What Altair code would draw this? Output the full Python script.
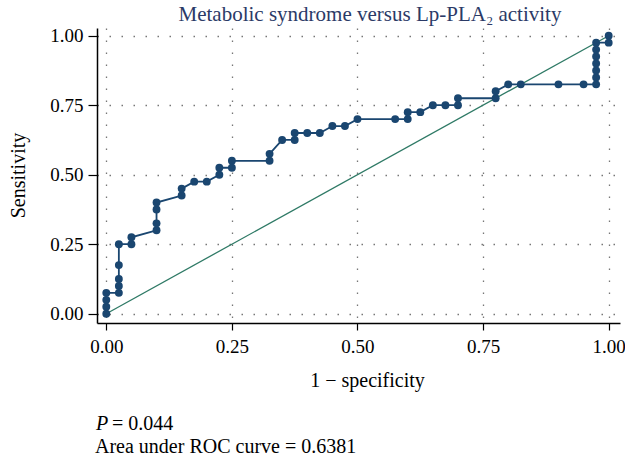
import altair as alt
import pandas as pd

# ROC curve points (1 - specificity, sensitivity)
fpr = [0, 0, 0, 0, 0.025, 0.025, 0.025, 0.025, 0.025, 0.05, 0.05, 0.1, 0.1, 0.1, 0.1,
       0.15, 0.15, 0.175, 0.2, 0.225, 0.225, 0.25, 0.25, 0.325, 0.325, 0.35, 0.375, 0.375,
       0.4, 0.425, 0.45, 0.475, 0.5, 0.575, 0.6, 0.6, 0.625, 0.65, 0.675, 0.7, 0.7, 0.775,
       0.775, 0.8, 0.825, 0.9, 0.95, 0.975, 0.975, 0.975, 0.975, 0.975, 0.975, 0.975, 1.0, 1.0]
tpr = [0, 0.025, 0.05, 0.075, 0.075, 0.1, 0.125, 0.175, 0.25, 0.25, 0.275, 0.3, 0.325, 0.375, 0.4,
       0.425, 0.45, 0.475, 0.475, 0.5, 0.525, 0.525, 0.55, 0.55, 0.575, 0.625, 0.625, 0.65,
       0.65, 0.65, 0.675, 0.675, 0.7, 0.7, 0.7, 0.725, 0.725, 0.75, 0.75, 0.75, 0.775, 0.775,
       0.8, 0.825, 0.825, 0.825, 0.825, 0.825, 0.85, 0.875, 0.9, 0.925, 0.95, 0.975, 0.975, 1.0]
ref_x = [0, 1]
ref_y = [0, 1]
ticks = [0, 0.25, 0.5, 0.75, 1.0]

title_text = "Metabolic syndrome versus Lp-PLA\u2082 activity"
p_label = "P"
p_value = "= 0.044"
auc_text = "Area under ROC curve = 0.6381"

FONT = "Liberation Serif"
FS = 20
LFS = 19
BLUE = "#1a4670"
GREEN = "#2f7a66"

roc = pd.DataFrame({"fpr": fpr, "tpr": tpr, "order": list(range(len(fpr)))})
diag = pd.DataFrame({"fpr": ref_x, "tpr": ref_y})

xscale = alt.Scale(domain=[-0.0185, 1.0225], nice=False, zero=False)
yscale = alt.Scale(domain=[-0.0334, 1.0277], nice=False, zero=False)

xaxis = alt.Axis(values=ticks, format=".2f", title="1 \u2212 specificity",
                 titleX=270, titleY=57, titleBaseline="middle", titleAlign="center",
                 labelPadding=7)
yaxis = alt.Axis(values=ticks, format=".2f", title="Sensitivity",
                 titleX=-79, titleY=147, titleAngle=270, titleAlign="center",
                 titleBaseline="middle", labelPadding=5, tickSize=9)

x = alt.X("fpr:Q", scale=xscale, axis=xaxis)
y = alt.Y("tpr:Q", scale=yscale, axis=yaxis)

diag_line = alt.Chart(diag).mark_line(color=GREEN, strokeWidth=1.3).encode(x=x, y=y)

roc_line = alt.Chart(roc).mark_line(color=BLUE, strokeWidth=1.8).encode(
    x=x, y=y, order="order:Q")
roc_pts = alt.Chart(roc).mark_circle(color=BLUE, size=62, opacity=1).encode(x=x, y=y)

title_mark = alt.Chart(pd.DataFrame({"t": [title_text]})).mark_text(
    font=FONT, fontSize=21, align="center", baseline="alphabetic",
    color="#2b3a67").encode(text="t:N", x=alt.value(273), y=alt.value(-7))
p1 = alt.Chart(pd.DataFrame({"t": [p_label]})).mark_text(
    font=FONT, fontSize=FS, fontStyle="italic", align="left", baseline="middle",
    color="black").encode(text="t:N", x=alt.value(-1), y=alt.value(396))
p2 = alt.Chart(pd.DataFrame({"t": [p_value]})).mark_text(
    font=FONT, fontSize=FS, align="left", baseline="middle",
    color="black").encode(text="t:N", x=alt.value(15), y=alt.value(396))
p3 = alt.Chart(pd.DataFrame({"t": [auc_text]})).mark_text(
    font=FONT, fontSize=FS, align="left", baseline="middle",
    color="black").encode(text="t:N", x=alt.value(-2), y=alt.value(419))

chart = alt.layer(diag_line, roc_line, roc_pts, title_mark, p1, p2, p3).properties(
    width=523, height=295,
    autosize=alt.AutoSizeParams(type="none"),
    padding={"left": 97, "top": 28, "right": 5, "bottom": 141},
).configure_view(stroke=None).configure_axis(
    labelFont=FONT, labelFontSize=LFS, labelColor="black",
    titleFont=FONT, titleFontSize=FS, titleFontWeight="normal", titleColor="black",
    domainColor="black", domainWidth=1.5, tickColor="black", tickSize=7, tickWidth=1.2,
    gridColor="#777777", gridDash=[1.5, 10.5], gridWidth=1.3,
).configure_axisY(labelAngle=0)

chart.save("out.html", embed_options={"renderer": "svg", "actions": False})
